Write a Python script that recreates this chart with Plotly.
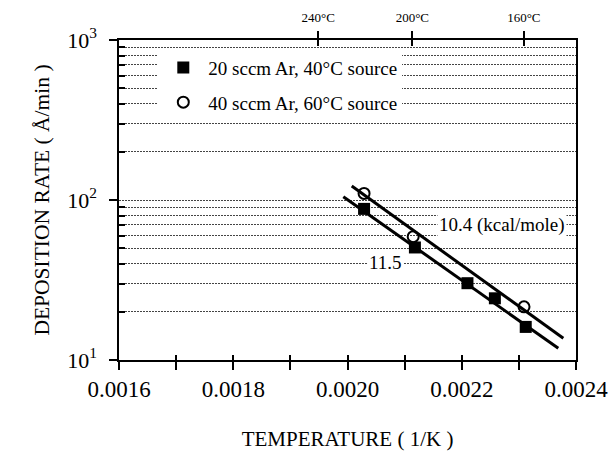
import math
import plotly.graph_objects as go

# ---- data ----
inv_T_20 = [0.002029, 0.002118, 0.002210, 0.002258, 0.002312]
rate_20 = [88.0, 50.5, 30.2, 24.3, 16.1]
inv_T_40 = [0.002029, 0.002115, 0.002309]
rate_40 = [110.0, 59.0, 21.5]

fit_a_x = [0.0020074, 0.0023778]   # upper line
fit_a_y = [122.3, 13.67]
fit_b_x = [0.0019927, 0.0023690]   # lower line
fit_b_y = [104.9, 11.83]

label_20 = "20 sccm Ar, 40°C source"
label_40 = "40 sccm Ar, 60°C source"
ea_labels = ["10.4 (kcal/mole)", "11.5"]
ea_label_x = [0.0022705, 0.0020657]
ea_label_y = [69.8, 40.4]

x_range = [0.0016, 0.0024]
x_major = [0.0016, 0.0018, 0.0020, 0.0022, 0.0024]
x_major_text = ["0.0016", "0.0018", "0.0020", "0.0022", "0.0024"]
y_major = [10, 100, 1000]
y_major_text = ["10<sup>1</sup>", "10<sup>2</sup>", "10<sup>3</sup>"]
y_minor = [m * d for d in (10, 100) for m in range(2, 10)]
top_temps_C = [240, 200, 160]

FONT = "'Liberation Serif', 'Times New Roman', Times, serif"
GRID = "#444444"
GRIDDASH = "2px,1px"

fig = go.Figure()
# every x axis shares the same 1/K range; each overlay axis carries one trace
fig.add_trace(go.Scatter(x=fit_a_x, y=fit_a_y, mode="lines", xaxis="x2",
                         line=dict(color="black", width=3), showlegend=False, hoverinfo="skip"))
fig.add_trace(go.Scatter(x=fit_b_x, y=fit_b_y, mode="lines", xaxis="x4",
                         line=dict(color="black", width=3), showlegend=False, hoverinfo="skip"))
fig.add_trace(go.Scatter(x=inv_T_20, y=rate_20, mode="markers", name=label_20,
                         legendgroup="a",
                         marker=dict(symbol="square", size=12, color="black")))
fig.add_trace(go.Scatter(x=inv_T_40, y=rate_40, mode="markers", name=label_40,
                         legendgroup="b", xaxis="x3",
                         marker=dict(symbol="circle-open", size=11, color="black",
                                     line=dict(width=2, color="black"))))

for t, xx, yy in zip(ea_labels, ea_label_x, ea_label_y):
    fig.add_annotation(x=xx, y=math.log10(yy), text=t, showarrow=False, bgcolor="white",
                       font=dict(family=FONT, size=19, color="black"), yanchor="middle")

top_vals = [1.0 / (t + 273.15) for t in top_temps_C]
top_text = [f"{t}°C" for t in top_temps_C]

common_x = dict(range=x_range, showgrid=False, zeroline=False, automargin=False)
fig.update_layout(
    width=613, height=453,
    margin=dict(l=119, r=37, t=40, b=93),
    paper_bgcolor="white", plot_bgcolor="white",
    font=dict(family=FONT, color="black"),
    showlegend=True,
    legend=dict(x=0.086, y=0.973, xanchor="left", yanchor="top", bgcolor="white",
                font=dict(family=FONT, size=19, color="black"),
                traceorder="grouped", tracegroupgap=7, itemwidth=40),
    xaxis=dict(**common_x, tickvals=x_major, ticktext=x_major_text,
               ticks="outside", ticklen=8, tickwidth=1.5, tickcolor="black",
               showline=True, linecolor="black", linewidth=1.5,
               tickfont=dict(family=FONT, size=23, color="black"),
               minor=dict(dtick=0.0001, tick0=0.0016, ticks="outside", ticklen=8,
                          tickwidth=1.5, tickcolor="black", showgrid=False),
               title=dict(text="TEMPERATURE ( 1/K )", standoff=30,
                          font=dict(family=FONT, size=21, color="black"))),
    xaxis3=dict(**common_x, overlaying="x", anchor="y", side="bottom",
                tick0=0.0016, dtick=0.0001, ticks="inside", ticklen=5, tickwidth=1.5,
                tickcolor="black", showticklabels=False, showline=False),
    xaxis2=dict(**common_x, overlaying="x", anchor="y", side="top",
                tickvals=top_vals, ticktext=top_text, ticks="outside", ticklen=7,
                tickwidth=2, tickcolor="black", showline=True, linecolor="black",
                linewidth=1.5, ticklabelstandoff=4,
                tickfont=dict(family=FONT, size=13, color="black")),
    xaxis4=dict(**common_x, overlaying="x", anchor="y", side="top",
                tickvals=top_vals, ticks="inside", ticklen=6, tickwidth=2,
                tickcolor="black", showticklabels=False, showline=False),
    yaxis=dict(type="log", range=[1, 3], tickvals=y_major, ticktext=y_major_text,
               automargin=False,
               ticks="outside", ticklen=8, tickwidth=1.5, tickcolor="black",
               ticklabelstandoff=8,
               showline=True, linecolor="black", linewidth=1.5, mirror=True,
               showgrid=True, gridcolor=GRID, gridwidth=1, griddash=GRIDDASH,
               zeroline=False,
               minor=dict(tickvals=y_minor, ticks="inside", ticklen=6, tickwidth=1.5,
                          tickcolor="black", showgrid=True, gridcolor=GRID,
                          gridwidth=1, griddash=GRIDDASH),
               tickfont=dict(family=FONT, size=22, color="black"),
               title=dict(text="DEPOSITION RATE ( Å/min )", standoff=12,
                          font=dict(family=FONT, size=21.5, color="black"))),
)

fig.write_html("out.html")
